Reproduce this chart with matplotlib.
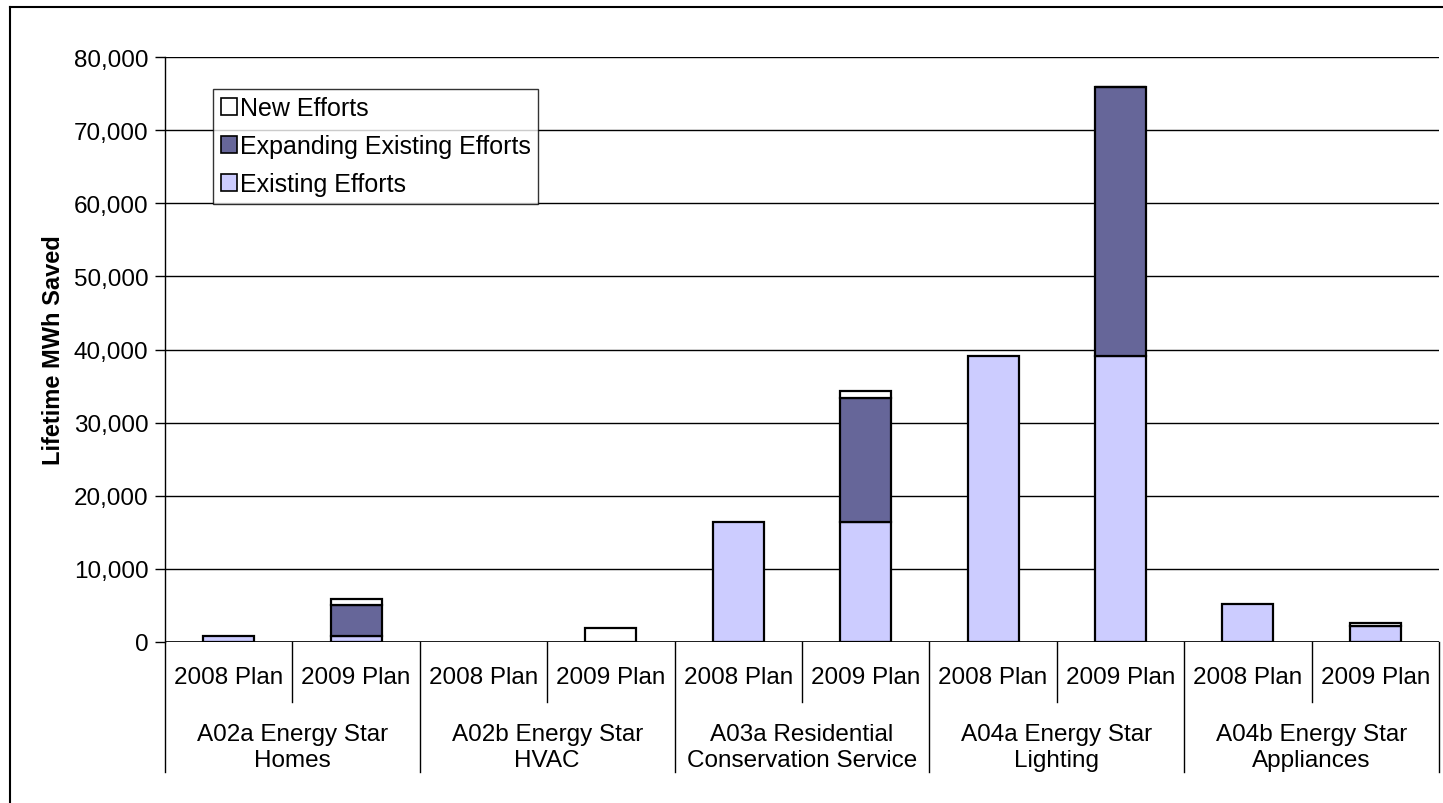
import numpy as np
import matplotlib
matplotlib.use("Agg")
from matplotlib import pyplot as plt
from matplotlib.patches import Patch
from matplotlib.lines import Line2D
import matplotlib.transforms as mtransforms

# data
groups = ["A02a Energy Star\nHomes", "A02b Energy Star\nHVAC",
          "A03a Residential\nConservation Service", "A04a Energy Star\nLighting",
          "A04b Energy Star\nAppliances"]
plans = ["2008 Plan", "2009 Plan"]

existing = [850, 850, 0, 0, 16450, 16400, 39150, 39150, 5200, 2150]
expanding = [0, 4250, 0, 0, 0, 17000, 0, 36700, 0, 0]
new_efforts = [0, 800, 0, 1900, 0, 900, 0, 100, 0, 500]

yticks = [0, 10000, 20000, 30000, 40000, 50000, 60000, 70000, 80000]

c_exist = "#CCCCFF"
c_expand = "#666699"
c_new = "#FFFFFF"

plt.rcParams['font.family'] = ['Liberation Sans', 'DejaVu Sans']

W, H = 1443, 804
fig = plt.figure(figsize=(W / 100, H / 100), dpi=100)
ax = fig.add_axes([165 / W, 1 - 643 / H, (1439 - 165) / W, (643 - 58) / H])

x = np.arange(len(existing))
ex = np.array(existing, float)
xp = np.array(expanding, float)
nw = np.array(new_efforts, float)
bw = 0.4
lw = 1.6


def draw(vals, bottom, color, label):
    m = vals > 0
    ax.bar(x[m], vals[m], bw, bottom=bottom[m], color=color,
           edgecolor="black", linewidth=lw, zorder=3)
    return Patch(facecolor=color, edgecolor="black", linewidth=1.2, label=label)


h1 = draw(ex, np.zeros_like(ex), c_exist, "Existing Efforts")
h2 = draw(xp, ex, c_expand, "Expanding Existing Efforts")
h3 = draw(nw, ex + xp, c_new, "New Efforts")

ax.set_xlim(-0.5, len(x) - 0.5)
ax.set_ylim(0, 80000)
ax.set_yticks(yticks)
ax.set_yticklabels(["{:,}".format(v) for v in yticks], fontsize=17.5)
ax.yaxis.grid(True, color="black", linewidth=1.0, zorder=0)
ax.set_axisbelow(True)
ax.tick_params(axis="y", direction="out", length=7, width=1, pad=5)
ax.set_xticks([])
for s in ["top", "right", "bottom"]:
    ax.spines[s].set_visible(False)
ax.spines["left"].set_linewidth(1.0)
ax.axhline(0, color="black", linewidth=1.2, zorder=4)

ax.set_ylabel("Lifetime MWh Saved", fontsize=17, fontweight="bold", labelpad=6)

# multi-level category axis
tr = mtransforms.blended_transform_factory(ax.transData, fig.transFigure)
y0 = 1 - 643 / H
for i in range(len(x) + 1):
    yb = 1 - (773 / H if i % 2 == 0 else 703 / H)
    ax.add_line(Line2D([i - 0.5, i - 0.5], [y0, yb], transform=tr,
                       color="black", linewidth=1.0, clip_on=False))
for i in range(len(x)):
    ax.text(i, 1 - 678 / H, plans[i % 2], transform=tr, ha="center",
            va="center", fontsize=17.5)
for g, name in enumerate(groups):
    ax.text(2 * g + 0.5, 1 - 748 / H, name, transform=tr, ha="center",
            va="center", fontsize=17.5, linespacing=1.25)

leg = ax.legend(handles=[h3, h2, h1], loc="upper left",
                bbox_to_anchor=(213 / W, 1 - 90 / H), bbox_transform=fig.transFigure,
                fontsize=18, frameon=True, fancybox=False, borderpad=0.3,
                handlelength=0.65, handleheight=0.65, handletextpad=0.12,
                labelspacing=0.55, borderaxespad=0)
leg.get_frame().set_edgecolor("black")
leg.get_frame().set_linewidth(1.0)

# outer chart border (left and top visible)
fig.add_artist(Line2D([10 / W, 10 / W], [0, 1 - 8 / H], transform=fig.transFigure,
                      color="black", linewidth=1.5))
fig.add_artist(Line2D([10 / W, 1], [1 - 8 / H, 1 - 8 / H], transform=fig.transFigure,
                      color="black", linewidth=1.5))

fig.savefig("out.png", dpi=100)
